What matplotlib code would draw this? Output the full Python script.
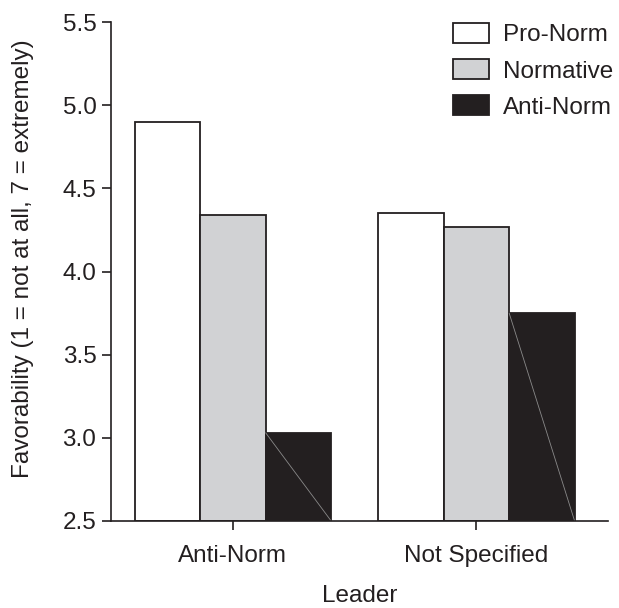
import numpy as np
import matplotlib.pyplot as plt

plt.rcParams['font.family'] = ['Liberation Sans', 'DejaVu Sans']

# data
leaders = ['Anti-Norm', 'Not Specified']
series = ['Pro-Norm', 'Normative', 'Anti-Norm']
pro_norm = [4.90, 4.35]
normative = [4.34, 4.27]
anti_norm = [3.03, 3.75]

ink = '#231f20'
fills = ['white', '#d1d2d4', ink]
width = 0.269
ymin = 2.5
fs = 17.5

fig = plt.figure(figsize=(6.19, 6.08), dpi=100)
ax = fig.add_axes([0.1793, 0.1431, 0.8027, 0.8207])

x = np.arange(len(leaders))
for i, (name, vals) in enumerate(zip(series, [pro_norm, normative, anti_norm])):
    xs = x + (i - 1) * width
    ax.bar(xs, np.array(vals) - ymin, width, bottom=ymin, color=fills[i],
           edgecolor=ink, linewidth=1.3, label=name)
    if name == 'Anti-Norm':
        # faint diagonal artefact seen in the original black bars
        for xc, v in zip(xs, vals):
            ax.plot([xc - width / 2, xc + width / 2], [v, ymin],
                    color='#8a8a8a', linewidth=0.6)

ax.set_xlim(-0.501, 1.54)
ax.set_ylim(2.5, 5.5)
ax.set_yticks([2.5, 3.0, 3.5, 4.0, 4.5, 5.0, 5.5])
ax.set_yticklabels(['2.5', '3.0', '3.5', '4.0', '4.5', '5.0', '5.5'])
ax.set_xticks(x)
ax.set_xticklabels(leaders)
ax.tick_params(direction='out', length=6.5, width=1.2, colors=ink,
               labelsize=fs, pad=4)
ax.tick_params(axis='x', pad=11)

for s in ['top', 'right']:
    ax.spines[s].set_visible(False)
for s in ['left', 'bottom']:
    ax.spines[s].set_color(ink)
    ax.spines[s].set_linewidth(1.2)

ax.set_xlabel('Leader', fontsize=fs, color=ink)
ax.set_ylabel('Favorability (1 = not at all, 7 = extremely)', fontsize=fs,
              color=ink)
ax.xaxis.set_label_coords(0.5, -0.128)
ax.yaxis.set_label_coords(-0.155, 0.525)

leg = fig.legend(loc='upper left', bbox_to_anchor=(453 / 619, 1 - 23 / 608),
                 frameon=False, fontsize=fs, handlelength=1.48,
                 handleheight=0.9, handletextpad=0.58, labelspacing=0.52,
                 borderpad=0, borderaxespad=0)
for t in leg.get_texts():
    t.set_color(ink)

fig.savefig('out.png', dpi=100)
